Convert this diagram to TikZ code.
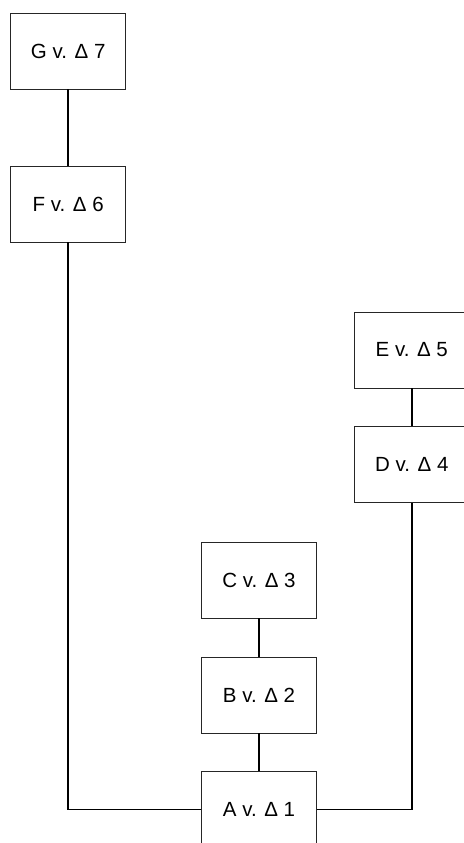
\documentclass[tikz,border=0pt]{standalone}
\usepackage{fontspec}
\setmainfont{Liberation Sans}
\usepackage{tikz}
\tikzstyle{version}=[draw=black!85, line width=0.8pt, minimum width=115pt, minimum height=76pt, inner sep=0pt, font=\fontsize{20.5}{24}\selectfont]
\tikzstyle{link}=[line width=1.5pt]

\begin{document}
\begin{tikzpicture}[x=1pt, y=1pt]
		   \useasboundingbox (0, 0) rectangle (463, 843);
		   \begin{scope}
			   \node (g) at (68.2, 792)[version] {G v. Δ 7};
			   \node (f) at (68.2, 639)[version] {F v. Δ 6};
			   \node (e) at (411.8, 493)[version] {E v. Δ 5};
			   \node (d) at (411.8, 378.5)[version] {D v. Δ 4};
			   \node (c) at (259, 263)[version] {C v. Δ 3};
			   \node (b) at (259, 148)[version] {B v. Δ 2};
			   \node (a) at (259, 33.7)[version] {A v. Δ 1};
		   \end{scope}
		   \begin{scope}
			   \path [link] (g) edge (f);
			   \path [link] (e) edge (d);
			   \path [link] (c) edge (b);
			   \path [link] (b) edge (a);
			   \draw [link] (a.west) -| (f.south);
			   \draw [link] (a.east) -| (d.south);
		   \end{scope}
	   \end{tikzpicture}
\end{document}
